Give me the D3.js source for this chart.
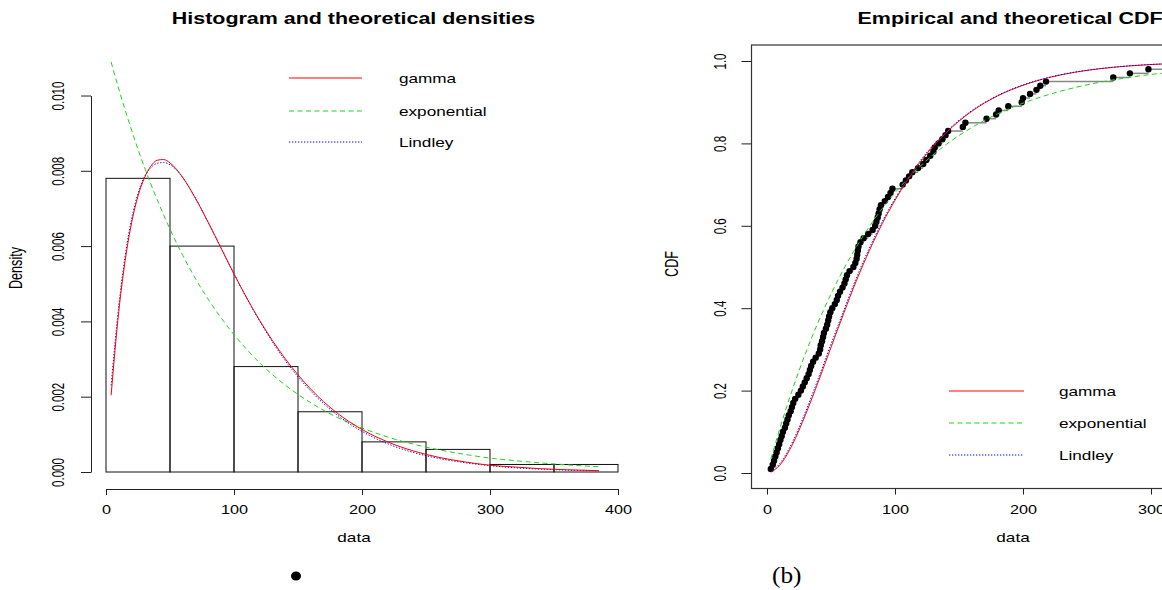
<!DOCTYPE html>
<html><head><meta charset="utf-8">
<script src="https://cdn.jsdelivr.net/npm/d3@7"></script>
<style>body{margin:0;background:#fff}svg{display:block}</style>
</head><body><svg id="c" width="1162" height="590"></svg>
<script>
// ---------- data ----------
const histBreaks = [0,50,100,150,200,250,300,350,400];
const histDensity = [0.0078,0.0060,0.0028,0.0016,0.0008,0.0006,0.0002,0.0002];

const densX = [4,10,15,20,25,30,35,40,45,50,60,70,80,90,100,120,140,160,180,200,220,240,260,280,300,320,340,360,385];
const gammaDens = [0.00204,0.00427,0.00562,0.00662,0.00733,0.00781,0.00812,0.00828,0.00830,0.00821,0.00782,0.00726,0.00662,0.00594,0.00526,0.00403,0.00301,0.00220,0.00158,0.00113,0.00080,0.00056,0.00039,0.00027,0.00018,0.00013,0.000086,0.000059,0.000036];
const expDens = [0.01089,0.01017,0.00961,0.00908,0.00857,0.00810,0.00765,0.00723,0.00683,0.00645,0.00575,0.00513,0.00458,0.00409,0.00365,0.00290,0.00231,0.00184,0.00146,0.00117,0.00093,0.00074,0.00059,0.00047,0.00037,0.00030,0.00024,0.00019,0.00014];
const lindleyDens = [0.00230,0.00442,0.00574,0.00672,0.00740,0.00784,0.00808,0.00820,0.00822,0.00816,0.00782,0.00727,0.00662,0.00594,0.00526,0.00401,0.00296,0.00215,0.00153,0.00108,0.00075,0.00052,0.00036,0.00025,0.00017,0.00011,0.000076,0.000051,0.000031];

const cdfX = [3,10,20,30,40,50,60,70,80,90,100,120,140,160,180,200,220,240,260,280,300,320,340,360,385];
const gammaCdf = [0.0020,0.0190,0.0700,0.1410,0.2210,0.3050,0.3880,0.4680,0.5400,0.6050,0.6620,0.7560,0.8260,0.8780,0.9150,0.9410,0.9596,0.9724,0.9812,0.9873,0.9914,0.9943,0.9962,0.9975,0.9986];
const expCdf = [0.0336,0.1077,0.2039,0.2897,0.3662,0.4345,0.4954,0.5498,0.5983,0.6416,0.6802,0.7454,0.7973,0.8386,0.8715,0.8977,0.9185,0.9351,0.9484,0.9589,0.9673,0.9739,0.9793,0.9835,0.9876];
const lindleyCdf = [0.0030,0.0230,0.0760,0.1480,0.2290,0.3130,0.3950,0.4750,0.5460,0.6100,0.6660,0.7590,0.8285,0.8795,0.9160,0.9419,0.9601,0.9728,0.9815,0.9875,0.9916,0.9944,0.9963,0.9976,0.9986];

const sampleData = [3,4.5,5.5,6.5,7.5,8.5,9.5,10.5,11.5,12.5,14,15,16,17,18.5,19.5,20.5,22,24.5,26.5,28,29.5,31,32.5,33.5,34.5,36,38,40.5,41.5,42,43,43.8,44.5,46,47,47.8,48.5,49.5,
 51,53,54.5,55.5,57,59,60.5,61.5,62.5,64.5,67.5,69,70,70.5,71,71.5,73,75.5,79,82.5,84.5,85.5,86.5,87.2,88,89,92,94.5,96.5,98,
 106,108.5,111,113.5,118,122,124.5,127.5,130,131,134,137,139.5,141.5,
 153,155,171.5,179,181,188.5,199,200,
 205.5,210.5,213.5,218,
 270.5,283.5,298,330,385];

const densTicks = [0,0.002,0.004,0.006,0.008,0.010];
const densTickLabels = ["0.000","0.002","0.004","0.006","0.008","0.010"];
const cdfTicks = [0,0.2,0.4,0.6,0.8,1.0];
const cdfTickLabels = ["0.0","0.2","0.4","0.6","0.8","1.0"];
const xTicksLeft = [0,100,200,300,400];
const xTicksRight = [0,100,200,300,400];
const legendNames = ["gamma","exponential","Lindley"];

// ---------- styling ----------
const FONT = "'Liberation Sans', Arial, Helvetica, sans-serif";
const SX_TICK = 1.2, SX_LAB = 1.27, SX_ROT = 1.45, SX_TITLE = 1.3;
const colors = {gamma:"#ff0000", exponential:"#1fd21f", Lindley:"#0000ff"};
const dashes = {gamma:null, exponential:"5,3.5", Lindley:"1.3,1.7"};

const svg = d3.select("#c");
svg.append("rect").attr("width",1162).attr("height",590).attr("fill","#fff");

function txt(g, x, y, s, o) {
  o = o || {};
  const t = g.append("text")
    .attr("transform", `translate(${x},${y}) scale(${o.sx||SX_LAB},1)` + (o.rot ? " rotate(-90)" : ""))
    .attr("text-anchor", o.anchor || "middle")
    .attr("font-family", o.family || FONT)
    .attr("font-size", o.size || 13.5)
    .attr("font-weight", o.weight || "normal")
    .attr("fill", o.fill || "#000")
    .text(s);
  return t;
}
function styleAxis(ax){
  ax.selectAll("path,line").attr("stroke","#222").attr("stroke-width",1);
  ax.selectAll("text").attr("font-family",FONT).attr("fill","#000");
}
function rotLabels(ax, off){
  ax.selectAll(".tick text").attr("x",null).attr("y",0).attr("dy","0.36em").attr("font-size",11.5)
    .attr("text-anchor","middle")
    .attr("transform",`translate(${-off},0) scale(${SX_ROT},1) rotate(-90)`)
    .attr("dy","0");
  ax.selectAll(".tick text").attr("dominant-baseline","middle");
}
function bottomLabels(ax){
  ax.selectAll(".tick text").attr("y",null).attr("dy",null).attr("font-size",13.5)
    .attr("transform",`translate(0,25) scale(${SX_TICK},1)`);
}

// ---------- left panel ----------
const xL = d3.scaleLinear().domain([0,400]).range([106,618]);
const yL = d3.scaleLinear().domain([0,0.010]).range([472,95.5]);
const gL = svg.append("g");

gL.selectAll("rect.bar").data(histDensity).join("rect")
  .attr("x",(d,i)=>xL(histBreaks[i]))
  .attr("width",(d,i)=>xL(histBreaks[i+1])-xL(histBreaks[i]))
  .attr("y",d=>yL(d)).attr("height",d=>yL(0)-yL(d))
  .attr("fill","none").attr("stroke","#111").attr("stroke-width",1);

const lineL = ys => d3.line().x((d,i)=>xL(densX[i])).y(d=>yL(d)).curve(d3.curveMonotoneX)(ys);
[["exponential",expDens],["Lindley",lindleyDens],["gamma",gammaDens]].forEach(([k,v])=>{
  gL.append("path").attr("d",lineL(v)).attr("fill","none")
    .attr("stroke",colors[k]).attr("stroke-width",1)
    .attr("stroke-dasharray",dashes[k]);
});

const axL = gL.append("g").attr("transform","translate(91,0)")
  .call(d3.axisLeft(yL).tickValues(densTicks).tickSize(10).tickSizeOuter(0).tickFormat((d,i)=>densTickLabels[i]));
const axB = gL.append("g").attr("transform","translate(0,489)")
  .call(d3.axisBottom(xL).tickValues(xTicksLeft).tickSize(6).tickSizeOuter(0));
styleAxis(axL); styleAxis(axB);
rotLabels(axL, 31); bottomLabels(axB);

txt(gL, 353.5, 24, "Histogram and theoretical densities", {size:16.5, weight:"bold", sx:SX_TITLE});
txt(gL, 354, 542, "data");
txt(gL, 22, 268, "Density", {rot:true, size:12.6, sx:SX_ROT});

legendNames.forEach((k,i)=>{
  const y = [78,111,142][i];
  gL.append("line").attr("x1",289).attr("x2",362).attr("y1",y).attr("y2",y)
    .attr("stroke",colors[k]).attr("stroke-width",1).attr("stroke-dasharray",dashes[k]);
  txt(gL, 399, y+5, k, {anchor:"start"});
});

gL.append("ellipse").attr("cx",296).attr("cy",576).attr("rx",5).attr("ry",4.6).attr("fill","#000");

// ---------- right panel ----------
const xR = d3.scaleLinear().domain([0,300]).range([767,1151]);
const yR = d3.scaleLinear().domain([0,1]).range([473,61]);
const gR = svg.append("g");
const boxL = 751.5, boxR = 1279, boxT = 45, boxB = 488.5;

const n = sampleData.length;
const segs = sampleData.map((v,i)=>({x0:v, x1: i<n-1 ? sampleData[i+1] : xR.invert(boxR), F:(i+1)/n}));
gR.selectAll("line.seg").data(segs).join("line")
  .attr("x1",d=>xR(d.x0)).attr("x2",d=>xR(d.x1)).attr("y1",d=>yR(d.F)).attr("y2",d=>yR(d.F))
  .attr("stroke","#888").attr("stroke-width",1.5);
gR.selectAll("circle.pt").data(sampleData).join("circle")
  .attr("cx",d=>xR(d)).attr("cy",(d,i)=>yR((i+1)/n)).attr("r",3.2).attr("fill","#000");

const lineR = ys => d3.line().x((d,i)=>xR(cdfX[i])).y(d=>yR(d)).curve(d3.curveMonotoneX)(ys);
[["exponential",expCdf],["gamma",gammaCdf],["Lindley",lindleyCdf]].forEach(([k,v])=>{
  gR.append("path").attr("d",lineR(v)).attr("fill","none")
    .attr("stroke",colors[k]).attr("stroke-width",1)
    .attr("stroke-dasharray",dashes[k]);
});

gR.append("rect").attr("x",boxL).attr("y",boxT).attr("width",boxR-boxL).attr("height",boxB-boxT)
  .attr("fill","none").attr("stroke","#333").attr("stroke-width",1.2);

const axRL = gR.append("g").attr("transform",`translate(${boxL},0)`)
  .call(d3.axisLeft(yR).tickValues(cdfTicks).tickSize(10).tickSizeOuter(0).tickFormat((d,i)=>cdfTickLabels[i]));
const axRB = gR.append("g").attr("transform",`translate(0,${boxB})`)
  .call(d3.axisBottom(xR).tickValues(xTicksRight).tickSize(6).tickSizeOuter(0));
styleAxis(axRL); styleAxis(axRB);
axRL.select(".domain").remove(); axRB.select(".domain").remove();
rotLabels(axRL, 30); bottomLabels(axRB);

txt(gR, 1010, 24, "Empirical and theoretical CDF", {size:16.5, weight:"bold", sx:SX_TITLE});
txt(gR, 1013, 542, "data");
txt(gR, 678, 264, "CDF", {rot:true, size:12.6, sx:SX_ROT});

legendNames.forEach((k,i)=>{
  const y = [391,423,455][i];
  gR.append("line").attr("x1",949).attr("x2",1024).attr("y1",y).attr("y2",y)
    .attr("stroke",colors[k]).attr("stroke-width",1).attr("stroke-dasharray",dashes[k]);
  txt(gR, 1059, y+5, k, {anchor:"start"});
});

txt(gR, 772, 583, "(b)", {anchor:"start", family:"'Liberation Serif','Times New Roman',serif", size:23, sx:1.1});
</script></body></html>
